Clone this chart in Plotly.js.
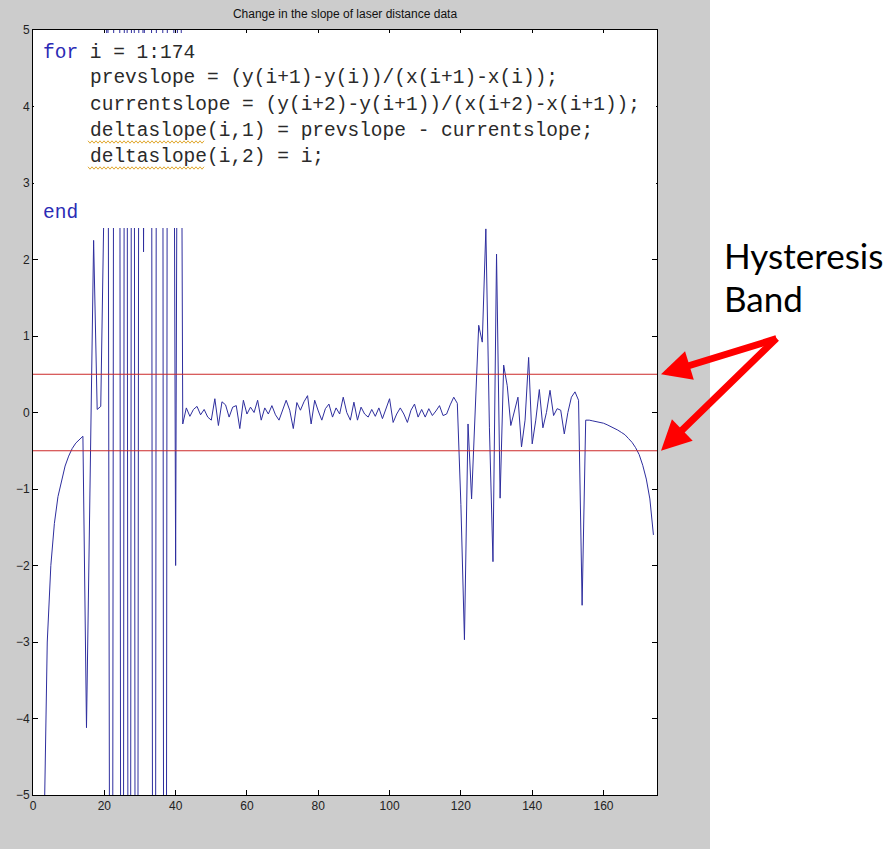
<!DOCTYPE html>
<html>
<head>
<meta charset="utf-8">
<script src="https://cdn.plot.ly/plotly-3.0.1.min.js"></script>
<style>html,body{margin:0;padding:0;background:#fff;}#chart{width:891px;height:849px;}</style>
</head>
<body>
<div id="chart"></div>
<script>
// ---- data: deltaslope(i,1) for i = 1..174 ----
const slopeStart = [-30, -12, -5.8, -3.0, -2.0, -1.45, -1.1, -0.88, -0.7, -0.57, -0.47, -0.4, -0.35, -0.31];          // i = 1..14
const slopeBurst1 = [-4.12, -0.9, 2.25, 0.04, 0.08, 3.0,                                                              // i = 15..20
  6, -20, 20, 20, -25, 25, -25, 25, -25, 20, 2.1, 15, 15, -25, 25, 25, -25, 20, 12, -2.0, 12];                         // i = 21..41
const slopeFlat = [-0.15, 0.06, -0.05, 0.04, 0.08, -0.03, 0.04, -0.06, -0.1, 0.18,                                    // i = 42..51
  -0.17, 0.14, 0.1, -0.06, 0.07, 0.09, -0.21, 0.16, -0.02, 0.07,                                                       // i = 52..61
  0.0, 0.16, -0.1, 0.06, -0.02, 0.09, -0.03, -0.1, 0.04, 0.16,                                                         // i = 62..71
  0.03, -0.21, 0.13, 0.03, 0.14, 0.22, -0.15, 0.16, 0.02, -0.1,                                                        // i = 72..81
  0.05, 0.11, -0.06, 0.06, -0.02, 0.2, 0.0, -0.1, 0.135, -0.1,                                                         // i = 82..91
  0.07, -0.02, -0.06, 0.04, -0.05, 0.06, -0.08, 0.05, 0.18, -0.13,                                                     // i = 92..101
  -0.02, 0.06, -0.02, -0.13, 0.03, 0.11, -0.06, 0.04, -0.06, 0.05,                                                     // i = 102..111
  -0.04, 0.02, 0.09, -0.04, -0.02, 0.1, 0.2, 0.12];                                                                    // i = 112..119
const slopeBurst2 = [-1.2, -2.97, -0.15, -1.13, 0.1, 1.14, 0.92, 2.4, -0.2, -1.95,                                    // i = 120..129
  2.07, -1.12, 0.62, 0.35, -0.17, 0.0, 0.2, -0.45, -0.1, 0.72,                                                         // i = 130..139
  -0.41, -0.1, 0.3, -0.2, 0.0, 0.29, -0.04, 0.05, 0.03, -0.28,                                                         // i = 140..149
  0.0, 0.2, 0.27, 0.16, -2.52];                                                                                         // i = 150..154
const slopeTail = [-0.1, -0.1, -0.11, -0.12, -0.13, -0.14, -0.16, -0.18, -0.2, -0.23,                                 // i = 155..164
  -0.26, -0.29, -0.34, -0.39, -0.46, -0.55, -0.69, -0.87, -1.13, -1.6];                                                // i = 165..174

const deltaSlope = [].concat(slopeStart, slopeBurst1, slopeFlat, slopeBurst2, slopeTail);
const sampleIndex = deltaSlope.map((_, k) => k + 1);

const bandUpper = 0.5;
const bandLower = -0.5;
const xRange = [0, 175];
const yRange = [-5, 5];
const xTicks = [0, 20, 40, 60, 80, 100, 120, 140, 160];
const yTicks = [-5, -4, -3, -2, -1, 0, 1, 2, 3, 4, 5];

const chartTitle = 'Change in the slope of laser distance data';
const codeLines = [
  {kw: 'for', text: ' i = 1:174', indent: false},
  {kw: '', text: 'prevslope = (y(i+1)-y(i))/(x(i+1)-x(i));', indent: true},
  {kw: '', text: 'currentslope = (y(i+2)-y(i+1))/(x(i+2)-x(i+1));', indent: true},
  {kw: '', text: 'deltaslope(i,1) = prevslope - currentslope;', indent: true},
  {kw: '', text: 'deltaslope(i,2) = i;', indent: true},
  {kw: 'end', text: '', indent: false}
];
const codeLineY = [53, 78, 105, 131, 157, 213];   // pixel rows of the code lines
const sideLabel = ['Hysteresis', 'Band'];

// ---- geometry helpers (pixel -> paper) ----
const W = 891, H = 849;
const M = {l: 33, r: 234, t: 30, b: 54};
const PW = W - M.l - M.r, PH = H - M.t - M.b;
const px = x => (x - M.l) / PW;
const py = y => (H - M.b - y) / PH;

const traces = [
  {x: sampleIndex, y: deltaSlope, type: 'scatter', mode: 'lines',
   line: {color: '#2e2e9e', width: 1}, hoverinfo: 'x+y'},
  {x: xRange, y: [bandUpper, bandUpper], type: 'scatter', mode: 'lines',
   line: {color: '#cc2a2a', width: 1}},
  {x: xRange, y: [bandLower, bandLower], type: 'scatter', mode: 'lines',
   line: {color: '#cc2a2a', width: 1}}
];

const axisFont = {family: 'Liberation Sans, Arial, sans-serif', size: 12, color: '#222'};
const shapes = [
  // white page area right of the figure window
  {type: 'rect', xref: 'paper', yref: 'paper', x0: px(710), x1: px(W + 5), y0: py(H + 5), y1: py(-5),
   fillcolor: '#ffffff', line: {width: 0}, layer: 'below'},
  // code screenshot panel
  {type: 'rect', xref: 'paper', yref: 'paper', x0: px(34), x1: px(656), y0: py(228), y1: py(33),
   fillcolor: '#ffffff', line: {width: 0}, layer: 'above'}
];

// wavy underlines beneath "deltaslope"
[142, 168].forEach(yy => {
  let d = '';
  for (let xx = 88, k = 0; xx <= 205; xx += 2, k++) {
    d += (k === 0 ? 'M' : 'L') + px(xx) + ',' + py(yy + (k % 2 ? 1.2 : -1.2)) + ' ';
  }
  shapes.push({type: 'path', xref: 'paper', yref: 'paper', path: d, line: {color: '#e0a830', width: 1}, layer: 'above'});
});

const annotations = [];
const monoFont = {family: 'Liberation Mono, Courier New, monospace', size: 19.5, color: '#2a2a2a'};
codeLines.forEach((ln, k) => {
  const t = (ln.kw ? '<span style="color:#2b2bb5">' + ln.kw + '</span>' : '') + ln.text;
  annotations.push({xref: 'paper', yref: 'paper', x: px(ln.indent ? 88 : 41), y: py(codeLineY[k]),
    xanchor: 'left', yanchor: 'middle', text: t, showarrow: false, font: monoFont});
});
annotations.push({xref: 'paper', yref: 'paper', x: px(722), y: py(255), xanchor: 'left', yanchor: 'middle',
  text: sideLabel[0], showarrow: false, font: {family: 'Lato, Open Sans, sans-serif', size: 35, color: '#000'}});
annotations.push({xref: 'paper', yref: 'paper', x: px(722), y: py(298), xanchor: 'left', yanchor: 'middle',
  text: sideLabel[1], showarrow: false, font: {family: 'Lato, Open Sans, sans-serif', size: 35, color: '#000'}});
[bandUpper, bandLower].forEach(v => {
  annotations.push({xref: 'paper', yref: 'y', x: px(661), y: v, text: '', showarrow: true,
    ax: 117, ay: 337 - (v > 0 ? 373 : 451), arrowcolor: '#ff0000', arrowwidth: 7, arrowhead: 2, arrowsize: 0.85});
});

const layout = {
  width: W, height: H,
  margin: {l: M.l, r: M.r, t: M.t, b: M.b, pad: 0},
  paper_bgcolor: '#cccccc', plot_bgcolor: '#ffffff',
  showlegend: false,
  title: {text: chartTitle, x: px(345), xref: 'paper', xanchor: 'center', y: 1 - 14 / H, yref: 'container', yanchor: 'middle',
    font: {family: 'Liberation Sans, Arial, sans-serif', size: 12, color: '#111'}},
  xaxis: {range: xRange, tickvals: xTicks, ticks: 'inside', ticklen: 5, tickcolor: '#000', showline: true,
    linecolor: '#000', linewidth: 1, mirror: 'ticks', showgrid: false, zeroline: false, tickfont: axisFont},
  yaxis: {range: yRange, tickvals: yTicks, ticks: 'inside', ticklen: 5, tickcolor: '#000', showline: true,
    linecolor: '#000', linewidth: 1, mirror: 'ticks', showgrid: false, zeroline: false, tickfont: axisFont},
  shapes: shapes,
  annotations: annotations
};

Plotly.newPlot('chart', traces, layout, {displayModeBar: false, staticPlot: true});
</script>
</body>
</html>
